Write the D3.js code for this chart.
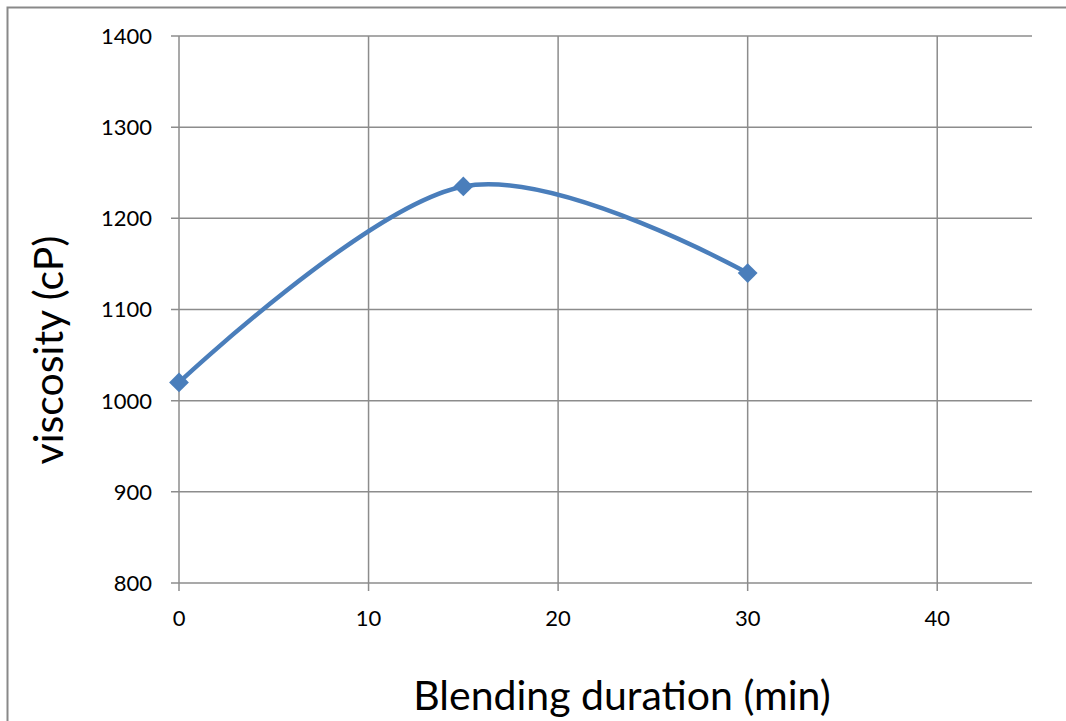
<!DOCTYPE html>
<html>
<head>
<meta charset="utf-8">
<script src="https://cdn.jsdelivr.net/npm/d3@7"></script>
<style>
  body { margin: 0; background: #fff; }
  text { font-family: Lato, "Open Sans", sans-serif; fill: #000; }
</style>
</head>
<body>
<script>
// blending duration (min) vs viscosity (cP)
var durations = [0, 15, 30];
var viscosity = [1020, 1235, 1140];
var xTicks = [0, 10, 20, 30, 40];
var yTicks = [800, 900, 1000, 1100, 1200, 1300, 1400];

var W = 1066, H = 721;
var margin = {top: 36, right: 34, bottom: 138, left: 179},
    width = W - margin.left - margin.right,
    height = H - margin.top - margin.bottom;

var svg = d3.select("body").append("svg")
    .attr("width", W)
    .attr("height", H);

// outer chart frame (left + top only visible)
svg.append("path")
    .attr("d", "M7.5," + H + "V7.5H" + W)
    .attr("fill", "none")
    .attr("stroke", "#898989")
    .attr("stroke-width", 2);

var g = svg.append("g")
    .attr("transform", "translate(" + margin.left + "," + margin.top + ")");

var x = d3.scaleLinear().domain([0, 45]).range([0, width]);
var y = d3.scaleLinear().domain([800, 1400]).range([height, 0]);

// grid
g.selectAll(".hgrid").data(yTicks).enter().append("line")
    .attr("x1", -8).attr("x2", width)
    .attr("y1", function(d) { return y(d); })
    .attr("y2", function(d) { return y(d); })
    .attr("stroke", "#8c8c8c").attr("stroke-width", 1.5);

g.selectAll(".vgrid").data(xTicks).enter().append("line")
    .attr("x1", function(d) { return x(d); })
    .attr("x2", function(d) { return x(d); })
    .attr("y1", 0).attr("y2", height + 8)
    .attr("stroke", "#8c8c8c").attr("stroke-width", 1.5);

// tick labels
g.selectAll(".ylab").data(yTicks).enter().append("text")
    .attr("x", -27)
    .attr("y", function(d) { return y(d); })
    .attr("dy", "0.36em")
    .attr("text-anchor", "end")
    .style("font-size", "22px")
    .text(function(d) { return d; });

g.selectAll(".xlab").data(xTicks).enter().append("text")
    .attr("x", function(d) { return x(d); })
    .attr("y", height + 43)
    .attr("text-anchor", "middle")
    .style("font-size", "22px")
    .text(function(d) { return d; });

// axis titles
svg.append("text")
    .attr("transform", "translate(63,350) rotate(-90)")
    .attr("text-anchor", "middle")
    .style("font-size", "41px")
    .text("viscosity (cP)");

svg.append("text")
    .attr("x", 622)
    .attr("y", 710)
    .attr("text-anchor", "middle")
    .style("font-size", "41px")
    .text("Blending duration (min)");

// series
var pts = durations.map(function(d, i) { return [d, viscosity[i]]; });

var line = d3.line()
    .x(function(d) { return x(d[0]); })
    .y(function(d) { return y(d[1]); })
    .curve(d3.curveCardinal.tension(0));

g.append("path")
    .datum(pts)
    .attr("d", line)
    .attr("fill", "none")
    .attr("stroke", "#4a7ebb")
    .attr("stroke-width", 4.5);

g.selectAll(".marker").data(pts).enter().append("path")
    .attr("transform", function(d) { return "translate(" + x(d[0]) + "," + y(d[1]) + ")"; })
    .attr("d", d3.symbol().type(d3.symbolDiamond2).size(250))
    .attr("fill", "#4a7ebb");
</script>
</body>
</html>
